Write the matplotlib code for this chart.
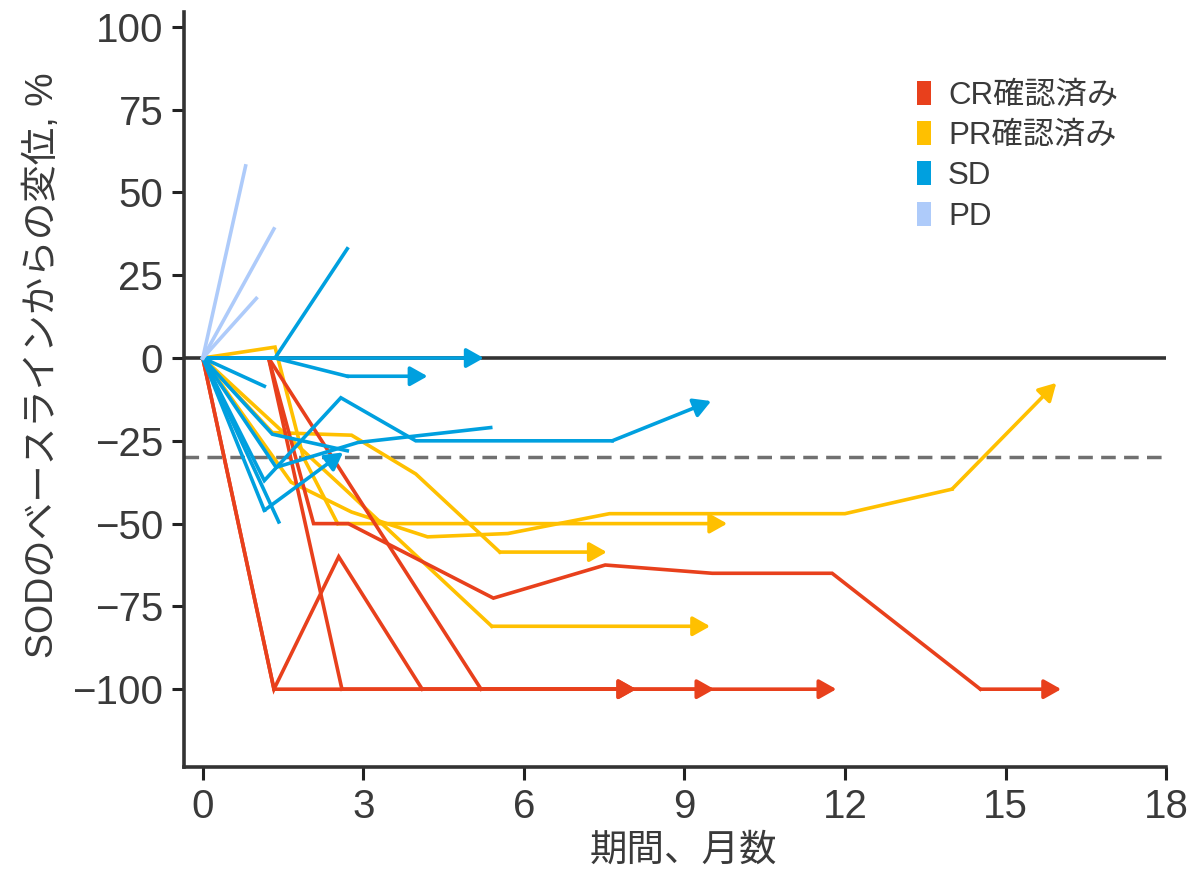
import matplotlib
matplotlib.use("Agg")
import matplotlib.pyplot as plt
from matplotlib.patches import Patch

plt.rcParams['font.family'] = ['Liberation Sans', 'Noto Sans CJK JP']

# months on study and % change of SOD from baseline, one list per patient
cr_x = [[0, 1.33, 2.54, 4.1, 9.56],
        [0, 1.33, 11.84],
        [0, 1.23, 2.07, 2.72, 5.43, 7.52, 9.52, 11.76, 14.53, 16.04],
        [0, 1.23, 2.6, 8.1],
        [0, 1.23, 5.2, 8.1]]
cr_y = [[0, -100, -60, -100, -100],
        [0, -100, -100],
        [0, 0, -50, -50, -72.5, -62.5, -65, -65, -100, -100],
        [0, 0, -100, -100],
        [0, 0, -100, -100]]
cr_arrow = [True, True, True, True, True]

pr_x = [[0, 1.35, 1.88, 2.52, 9.8],
        [0, 1.3, 2.78, 3.98, 5.55, 7.55],
        [0, 1.65, 2.78, 4.2, 5.7, 7.6, 12.0, 14.0, 15.95],
        [0, 2.75, 5.4, 9.48]]
pr_y = [[0, 3.3, -30, -50, -50],
        [0, -22.5, -23.3, -35, -58.6, -58.6],
        [0, -37.5, -46.5, -54, -53, -47, -47, -39.6, -7.5],
        [0, -41, -81, -81]]
pr_arrow = [True, True, True, True]

sd_x = [[0, 1.35, 2.7],
        [0, 5.25],
        [0, 1.35, 2.7, 4.2],
        [0, 1.15],
        [0, 1.3, 2.7],
        [0, 1.15, 2.58, 3.98, 7.65, 9.5],
        [0, 1.15, 2.62],
        [0, 1.42],
        [0, 1.37, 2.9, 5.38]]
sd_y = [[0, 0, 33],
        [0, 0],
        [0, 0, -5.5, -5.5],
        [0, -8.5],
        [0, -23, -28],
        [0, -37, -12, -25, -25, -13],
        [0, -46, -28.5],
        [0, -49.5],
        [0, -33, -25.5, -21]]
sd_arrow = [False, True, True, False, False, True, True, False, False]

pd_x = [[0, 0.8], [0, 1.33], [0, 1.0]]
pd_y = [[0, 58], [0, 39], [0, 18]]
pd_arrow = [False, False, False]

labels = ["CR確認済み", "PR確認済み", "SD", "PD"]
colors = ["#E8401C", "#FFC000", "#00A0DF", "#AECBFA"]

text_color = "#3a3a3a"

fig = plt.figure(figsize=(11.89, 8.73), dpi=100)
ax = fig.add_axes([0.1548, 0.1214, 0.8259, 0.8649])

# reference lines
ax.axhline(0, color="#333333", lw=2.6, zorder=1)
ax.axhline(-30, color="#707070", lw=2.5, ls=(0, (4.2, 2.4)), zorder=1)


def draw_group(xs, ys, arrows, color, z):
    for x, y, arr in zip(xs, ys, arrows):
        if arr:
            ax.plot(x[:-1], y[:-1], color=color, lw=2.6, zorder=z,
                    solid_joinstyle='miter')
            ax.annotate('', xy=(x[-1], y[-1]), xytext=(x[-2], y[-2]),
                        arrowprops=dict(arrowstyle='-|>,head_length=0.8,head_width=0.45',
                                        color=color, lw=2.6, mutation_scale=13,
                                        shrinkA=0, shrinkB=0),
                        zorder=z)
        else:
            ax.plot(x, y, color=color, lw=2.6, zorder=z, solid_joinstyle='miter')


draw_group(pr_x, pr_y, pr_arrow, colors[1], 2)
draw_group(cr_x, cr_y, cr_arrow, colors[0], 3)
draw_group(sd_x, sd_y, sd_arrow, colors[2], 4)
draw_group(pd_x, pd_y, pd_arrow, colors[3], 5)

ax.set_xlim(-0.35, 18)
ax.set_ylim(-123.5, 104.5)
ax.set_xticks(range(0, 19, 3))
ax.set_yticks(range(-100, 101, 25))

for s in ['top', 'right']:
    ax.spines[s].set_visible(False)
for s in ['left', 'bottom']:
    ax.spines[s].set_linewidth(2.6)
    ax.spines[s].set_color("#333333")

ax.tick_params(axis='both', direction='out', length=9, width=2.2,
               color="#222222", labelsize=29, labelcolor=text_color, pad=6)

ax.set_xlabel("期間、月数", fontsize=27, color=text_color, labelpad=5)
ax.xaxis.label.set_x(0.508)
ax.set_ylabel("SODのベースラインからの変位, %", fontsize=27, color=text_color, labelpad=8)
ax.yaxis.label.set_y(0.532)

handles = [Patch(facecolor=c, edgecolor='none') for c in colors]
ax.legend(handles, labels, loc='upper left', bbox_to_anchor=(0.746, 0.909),
          frameon=False, fontsize=22.5, handlelength=0.45, handleheight=0.8,
          handletextpad=0.55, labelspacing=0.33, borderpad=0, borderaxespad=0,
          labelcolor=text_color)

plt.savefig("out.png", dpi=100)
